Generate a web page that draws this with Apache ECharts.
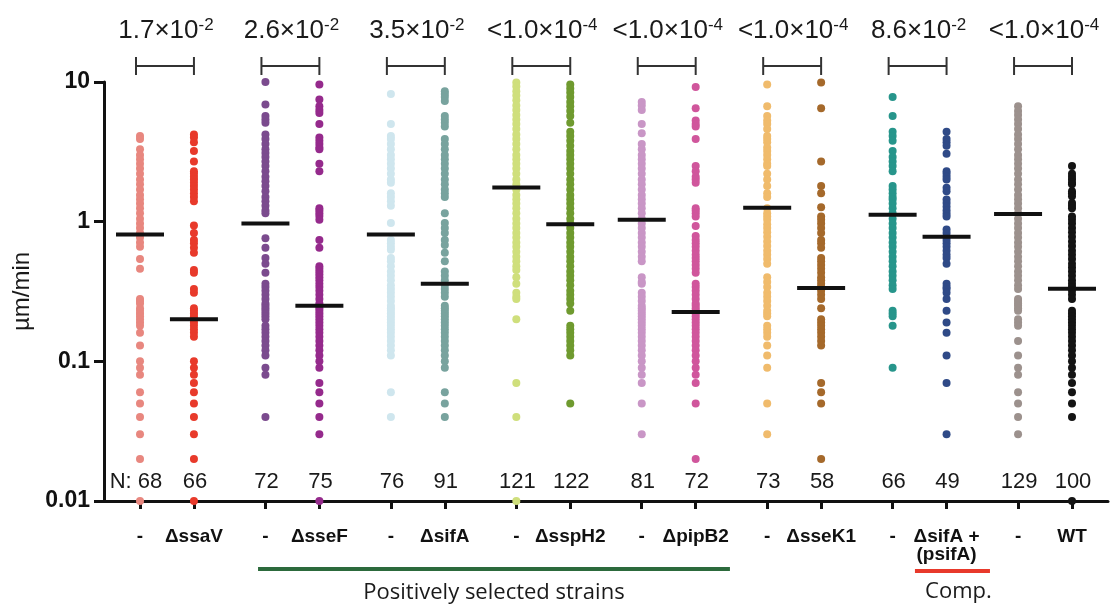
<!DOCTYPE html>
<html><head><meta charset="utf-8">
<script src="https://cdn.jsdelivr.net/npm/echarts@6/dist/echarts.min.js"></script>
<style>html,body{margin:0;padding:0;background:#fff}#c{width:1110px;height:609px}</style>
</head><body><div id="c"></div>
<script>
// ---------- data ----------
const strainLabels = ['-', 'ΔssaV', '-', 'ΔsseF', '-', 'ΔsifA', '-', 'ΔsspH2', '-', 'ΔpipB2', '-', 'ΔsseK1', '-', 'ΔsifA +\n(psifA)', '-', 'WT'];
const nCounts = [68, 66, 72, 75, 76, 91, 121, 122, 81, 72, 73, 58, 66, 49, 129, 100];
const medians = [0.81, 0.20, 0.97, 0.25, 0.81, 0.36, 1.76, 0.96, 1.03, 0.226, 1.26, 0.335, 1.12, 0.78, 1.135, 0.331];
const pMantissa = ['1.7', '2.6', '3.5', '<1.0', '<1.0', '<1.0', '8.6', '<1.0'];
const pExponent = ['-2', '-2', '-2', '-4', '-4', '-4', '-2', '-4'];
const yTickLabels = ['0.01', '0.1', '1', '10'];

const ctrlSsaV = [4.1, 3.9, 3.3, 3.0, 2.8, 2.6, 2.4, 2.2, 2.0, 1.85, 1.7, 1.55, 1.45, 1.35, 1.25, 1.15, 1.05, 0.97, 0.9, 0.83, 0.77, 0.71, 0.66, 0.54, 0.46, 0.28, 0.27, 0.26, 0.24, 0.23, 0.22, 0.21, 0.2, 0.19, 0.18, 0.16, 0.13, 0.1, 0.09, 0.08, 0.06, 0.05, 0.04, 0.03, 0.02, 0.01];
const ssaV = [4.2, 4.0, 3.7, 3.2, 2.7, 2.3, 2.2, 2.1, 2.0, 1.9, 1.8, 1.7, 1.6, 1.5, 1.4, 0.94, 0.83, 0.74, 0.7, 0.65, 0.6, 0.45, 0.43, 0.33, 0.31, 0.24, 0.23, 0.22, 0.21, 0.2, 0.19, 0.18, 0.17, 0.16, 0.15, 0.1, 0.09, 0.08, 0.07, 0.06, 0.05, 0.04, 0.03, 0.02, 0.01];
const ctrlSseF = [10, 6.9, 5.7, 5.4, 5.1, 4.2, 3.9, 3.6, 3.3, 3.1, 2.9, 2.7, 2.5, 2.3, 2.1, 1.95, 1.8, 1.65, 1.5, 1.4, 1.3, 1.2, 1.15, 0.76, 0.65, 0.55, 0.5, 0.43, 0.36, 0.34, 0.32, 0.3, 0.28, 0.26, 0.25, 0.24, 0.23, 0.22, 0.21, 0.2, 0.18, 0.17, 0.16, 0.15, 0.14, 0.13, 0.12, 0.11, 0.09, 0.08, 0.04];
const sseF = [9.6, 7.5, 6.7, 6.3, 6.0, 5.0, 4.0, 3.8, 3.6, 3.4, 3.3, 2.6, 2.3, 1.25, 1.2, 1.15, 1.1, 1.03, 0.74, 0.65, 0.48, 0.46, 0.44, 0.42, 0.4, 0.38, 0.36, 0.34, 0.32, 0.3, 0.28, 0.26, 0.25, 0.24, 0.23, 0.22, 0.21, 0.2, 0.19, 0.18, 0.17, 0.16, 0.15, 0.14, 0.13, 0.12, 0.11, 0.1, 0.09, 0.07, 0.06, 0.05, 0.04, 0.03, 0.01];
const ctrlSifA = [8.2, 5.0, 4.1, 3.9, 3.6, 3.3, 3.0, 2.8, 2.6, 2.4, 2.2, 2.0, 1.9, 1.6, 1.5, 1.4, 1.3, 0.98, 0.74, 0.7, 0.66, 0.63, 0.55, 0.52, 0.48, 0.44, 0.41, 0.38, 0.35, 0.33, 0.31, 0.29, 0.27, 0.25, 0.24, 0.23, 0.22, 0.21, 0.2, 0.19, 0.18, 0.17, 0.16, 0.15, 0.14, 0.13, 0.12, 0.11, 0.06, 0.04];
const sifA = [8.6, 8.2, 7.8, 7.3, 5.7, 5.4, 5.1, 4.8, 3.9, 3.6, 3.3, 3.0, 2.8, 2.6, 2.4, 2.2, 2.0, 1.85, 1.7, 1.6, 1.5, 1.15, 0.98, 0.9, 0.83, 0.74, 0.68, 0.6, 0.52, 0.44, 0.41, 0.38, 0.35, 0.33, 0.31, 0.29, 0.25, 0.24, 0.23, 0.22, 0.21, 0.2, 0.19, 0.18, 0.17, 0.16, 0.15, 0.14, 0.13, 0.12, 0.11, 0.1, 0.09, 0.06, 0.05, 0.04];
const ctrlSspH2 = [9.9, 9.3, 8.6, 8.0, 7.4, 6.8, 6.3, 5.8, 5.4, 5.0, 4.6, 4.2, 3.9, 3.6, 3.3, 3.0, 2.8, 2.6, 2.4, 2.2, 2.0, 1.85, 1.7, 1.55, 1.45, 1.35, 1.25, 1.15, 1.05, 0.97, 0.9, 0.83, 0.77, 0.71, 0.66, 0.61, 0.56, 0.52, 0.48, 0.45, 0.4, 0.36, 0.31, 0.29, 0.28, 0.2, 0.07, 0.04, 0.01];
const sspH2 = [9.6, 9.0, 8.4, 7.8, 7.2, 6.7, 6.2, 5.7, 5.1, 4.4, 4.1, 3.8, 3.5, 3.2, 3.0, 2.8, 2.6, 2.4, 2.2, 2.0, 1.85, 1.7, 1.55, 1.45, 1.35, 1.25, 1.15, 1.05, 0.97, 0.9, 0.83, 0.77, 0.71, 0.66, 0.61, 0.56, 0.52, 0.48, 0.44, 0.41, 0.38, 0.35, 0.32, 0.3, 0.28, 0.26, 0.23, 0.18, 0.17, 0.16, 0.15, 0.14, 0.13, 0.12, 0.11, 0.05];
const ctrlPipB2 = [7.2, 6.8, 6.3, 5.0, 4.3, 3.6, 3.3, 3.0, 2.8, 2.6, 2.4, 2.2, 2.0, 1.85, 1.7, 1.55, 1.45, 1.35, 1.25, 1.15, 1.05, 0.97, 0.9, 0.83, 0.77, 0.71, 0.66, 0.61, 0.56, 0.52, 0.4, 0.37, 0.36, 0.31, 0.29, 0.27, 0.25, 0.24, 0.23, 0.22, 0.21, 0.2, 0.19, 0.18, 0.17, 0.16, 0.15, 0.14, 0.13, 0.12, 0.11, 0.1, 0.09, 0.08, 0.07, 0.05, 0.03];
const pipB2 = [9.2, 6.5, 5.3, 5.0, 4.8, 3.9, 2.5, 2.3, 2.1, 2.0, 1.9, 1.25, 1.2, 1.15, 1.09, 0.93, 0.79, 0.74, 0.7, 0.66, 0.62, 0.58, 0.55, 0.52, 0.49, 0.46, 0.43, 0.36, 0.34, 0.32, 0.3, 0.28, 0.26, 0.25, 0.24, 0.23, 0.22, 0.21, 0.2, 0.19, 0.18, 0.17, 0.16, 0.15, 0.14, 0.13, 0.12, 0.11, 0.1, 0.09, 0.08, 0.07, 0.05, 0.02];
const ctrlSseK1 = [9.6, 6.7, 5.7, 5.3, 5.0, 4.6, 4.1, 3.9, 3.7, 3.4, 3.2, 3.0, 2.8, 2.6, 2.5, 2.2, 2.0, 1.8, 1.6, 1.5, 1.25, 1.15, 1.09, 1.03, 0.96, 0.9, 0.84, 0.78, 0.72, 0.67, 0.62, 0.58, 0.54, 0.5, 0.4, 0.37, 0.34, 0.31, 0.29, 0.27, 0.25, 0.23, 0.22, 0.21, 0.18, 0.17, 0.16, 0.15, 0.13, 0.11, 0.09, 0.05, 0.03];
const sseK1 = [9.9, 6.5, 2.7, 1.8, 1.6, 1.27, 1.09, 1.03, 0.97, 0.9, 0.83, 0.74, 0.7, 0.65, 0.55, 0.52, 0.49, 0.46, 0.43, 0.4, 0.38, 0.36, 0.34, 0.32, 0.3, 0.28, 0.24, 0.2, 0.19, 0.18, 0.17, 0.16, 0.15, 0.14, 0.13, 0.07, 0.06, 0.05, 0.02];
const ctrlComp = [7.8, 5.7, 4.4, 4.1, 3.8, 3.2, 2.9, 2.7, 2.5, 2.3, 1.8, 1.7, 1.6, 1.5, 1.44, 1.35, 1.25, 1.15, 1.05, 0.97, 0.9, 0.83, 0.77, 0.71, 0.66, 0.61, 0.56, 0.52, 0.48, 0.44, 0.41, 0.38, 0.35, 0.33, 0.23, 0.22, 0.21, 0.18, 0.09];
const sifAComp = [4.4, 3.9, 3.7, 3.5, 3.06, 2.3, 2.2, 2.1, 2.0, 1.75, 1.65, 1.44, 1.36, 1.28, 1.2, 1.14, 1.09, 0.88, 0.83, 0.78, 0.74, 0.7, 0.66, 0.62, 0.58, 0.55, 0.5, 0.36, 0.34, 0.33, 0.31, 0.28, 0.23, 0.19, 0.16, 0.11, 0.07, 0.03];
const ctrlWT = [6.7, 6.2, 5.8, 5.4, 5.0, 4.6, 4.2, 3.9, 3.6, 3.3, 3.0, 2.8, 2.6, 2.4, 2.2, 2.0, 1.85, 1.7, 1.55, 1.45, 1.35, 1.25, 1.15, 1.05, 0.97, 0.9, 0.83, 0.77, 0.71, 0.66, 0.61, 0.56, 0.52, 0.48, 0.44, 0.41, 0.38, 0.35, 0.33, 0.28, 0.27, 0.26, 0.25, 0.24, 0.23, 0.2, 0.19, 0.18, 0.14, 0.11, 0.09, 0.08, 0.06, 0.05, 0.04, 0.03];
const wt = [2.5, 2.2, 2.1, 2.0, 1.9, 1.85, 1.65, 1.6, 1.52, 1.36, 1.3, 1.25, 1.09, 1.03, 0.97, 0.9, 0.84, 0.78, 0.72, 0.67, 0.62, 0.58, 0.54, 0.5, 0.47, 0.44, 0.41, 0.38, 0.36, 0.34, 0.32, 0.3, 0.28, 0.23, 0.22, 0.21, 0.2, 0.19, 0.18, 0.17, 0.16, 0.15, 0.14, 0.13, 0.12, 0.11, 0.1, 0.09, 0.08, 0.07, 0.06, 0.05, 0.04, 0.01];

const columns = [ctrlSsaV, ssaV, ctrlSseF, sseF, ctrlSifA, sifA, ctrlSspH2, sspH2, ctrlPipB2, pipB2, ctrlSseK1, sseK1, ctrlComp, sifAComp, ctrlWT, wt];
const colors = ['#e8877f', '#e83a2b', '#7b4b8e', '#952a8c', '#cfe6ee', '#78a39e', '#cfdf7c', '#6f9a2f', '#c996c6', '#d0569c', '#f0bb6c', '#a5692b', '#27958b', '#2f4a87', '#9c918d', '#141414'];

// ---------- layout ----------
const PAIR_GAP = 0.43;
const colX = columns.map((_, i) => Math.floor(i / 2) + (i % 2) * PAIR_GAP);
const labelFor = v => { let best = 0; colX.forEach((x, i) => { if (Math.abs(x - v) < Math.abs(colX[best] - v)) best = i; }); return best; };
const ARIAL = 'Liberation Sans, Arial, sans-serif';
const N_LABEL_Y = 0.0137;

const chart = echarts.init(document.getElementById('c'), null, { renderer: 'canvas' });

const series = [];
columns.forEach((vals, i) => {
  series.push({
    type: 'scatter', data: vals.map(v => [colX[i], v]), symbolSize: 8,
    itemStyle: { color: colors[i], opacity: 1 }, silent: true, z: 2, animation: false
  });
});
series.push({
  type: 'scatter', data: medians.map((m, i) => [colX[i], m]), symbol: 'rect', symbolSize: [48, 4],
  itemStyle: { color: '#111', opacity: 1 }, silent: true, z: 5, animation: false
});
series.push({
  type: 'custom', clip: false, silent: true, z: 6, animation: false,
  data: nCounts.map((n, i) => [colX[i], N_LABEL_Y, n]),
  renderItem: (params, api) => {
    const i = params.dataIndex;
    const c = api.coord([api.value(0), api.value(1)]);
    return {
      type: 'text', x: c[0] + (i === 0 ? -4 : 1), y: c[1],
      style: {
        text: (i === 0 ? 'N: ' : '') + nCounts[i], fontSize: 22, fontFamily: ARIAL,
        fill: '#1a1a1a', align: 'center', verticalAlign: 'middle'
      }
    };
  }
});
series.push({
  type: 'custom', clip: false, silent: true, z: 6, animation: false,
  data: pMantissa.map((m, p) => [p, 10]),
  renderItem: (params, api) => {
    const p = api.value(0);
    const a = api.coord([p, 10]);
    const b = api.coord([p + PAIR_GAP, 10]);
    const yb = a[1] - 16;
    const st = { stroke: '#333', lineWidth: 2 };
    return {
      type: 'group', children: [
        { type: 'line', shape: { x1: a[0] - 4, y1: yb, x2: b[0], y2: yb }, style: st },
        { type: 'line', shape: { x1: a[0] - 4, y1: yb - 9, x2: a[0] - 4, y2: yb + 9 }, style: st },
        { type: 'line', shape: { x1: b[0], y1: yb - 9, x2: b[0], y2: yb + 9 }, style: st },
        {
          type: 'text', x: (a[0] + b[0]) / 2 - 1, y: a[1] - 51,
          style: {
            text: '{m|' + pMantissa[p] + '×10}{e|' + pExponent[p] + '}',
            align: 'center', verticalAlign: 'middle',
            rich: {
              m: { fontSize: 26, fontFamily: ARIAL, fill: '#1a1a1a', color: '#1a1a1a', lineHeight: 28 },
              e: { fontSize: 17, fontFamily: ARIAL, fill: '#1a1a1a', color: '#1a1a1a', verticalAlign: 'top', lineHeight: 17 }
            }
          }
        }
      ]
    };
  }
});

chart.setOption({
  animation: false,
  grid: { left: 104, right: 2, top: 82, bottom: 108, containLabel: false },
  xAxis: {
    type: 'value', min: -0.287, max: 7.717,
    axisLine: { onZero: false, lineStyle: { color: '#111', width: 3 } },
    splitLine: { show: false },
    axisTick: { show: true, customValues: colX, length: 8, lineStyle: { color: '#111', width: 3 } },
    axisLabel: {
      customValues: colX, formatter: v => strainLabels[labelFor(v)],
      fontWeight: 'bold', fontSize: 19, fontFamily: ARIAL, color: '#111', margin: 27, lineHeight: 18
    }
  },
  yAxis: {
    type: 'log', logBase: 10, min: 0.01, max: 10,
    axisLine: { show: true, onZero: false, lineStyle: { color: '#111', width: 3 } },
    axisTick: { show: true, length: 10, lineStyle: { color: '#111', width: 3 } },
    splitLine: { show: false }, minorTick: { show: false },
    axisLabel: {
      fontSize: 23, fontWeight: 'bold', fontFamily: ARIAL, color: '#111', margin: 14,
      formatter: v => yTickLabels[Math.round(Math.log10(v)) + 2]
    },
    name: 'µm/min', nameLocation: 'middle', nameGap: 66,
    nameTextStyle: { fontSize: 24, fontFamily: ARIAL, color: '#1a1a1a' }
  },
  series
});

// annotation groups below the axis
const px = v => chart.convertToPixel({ gridIndex: 0 }, [v, 0.01]);
const g1 = px(0.941), g2 = px(4.703), r1 = px(6.178), r2 = px(6.776);
const base = g1[1];
chart.setOption({
  graphic: [
    { type: 'rect', shape: { x: g1[0], y: base + 66, width: g2[0] - g1[0], height: 4 }, style: { fill: '#2c6a3c' } },
    { type: 'rect', shape: { x: r1[0], y: base + 68, width: r2[0] - r1[0], height: 4 }, style: { fill: '#e8392b' } },
    { type: 'text', x: (g1[0] + g2[0]) / 2, y: base + 92, style: { text: 'Positively selected strains', fontSize: 22, fontFamily: 'Open Sans, sans-serif', fill: '#1a1a1a', align: 'center', verticalAlign: 'middle' } },
    { type: 'text', x: (r1[0] + r2[0]) / 2 + 6, y: base + 91, style: { text: 'Comp.', fontSize: 22, fontFamily: 'Open Sans, sans-serif', fill: '#1a1a1a', align: 'center', verticalAlign: 'middle' } }
  ]
});
</script>
</body></html>
